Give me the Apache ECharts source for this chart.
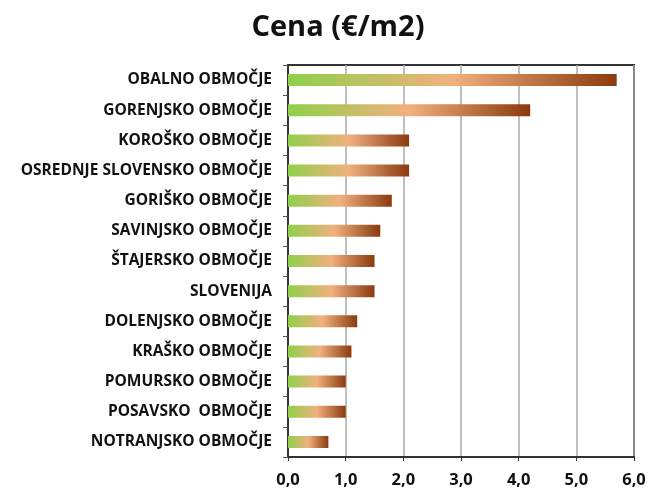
<!DOCTYPE html>
<html><head><meta charset="utf-8">
<script src="https://cdn.jsdelivr.net/npm/echarts@6/dist/echarts.min.js"></script>
<style>html,body{margin:0;padding:0;background:#fff}#c{width:649px;height:490px}</style>
</head><body><div id="c"></div>
<script>
const categories = ["OBALNO OBMOČJE","GORENJSKO OBMOČJE","KOROŠKO OBMOČJE","OSREDNJE SLOVENSKO OBMOČJE","GORIŠKO OBMOČJE","SAVINJSKO OBMOČJE","ŠTAJERSKO OBMOČJE","SLOVENIJA","DOLENJSKO OBMOČJE","KRAŠKO OBMOČJE","POMURSKO OBMOČJE","POSAVSKO  OBMOČJE","NOTRANJSKO OBMOČJE"];
const values = [5.7,4.2,2.1,2.1,1.8,1.6,1.5,1.5,1.2,1.1,1.0,1.0,0.7];
const titleText = "Cena (€/m2)";

const chart = echarts.init(document.getElementById('c'), null, {renderer:'canvas'});
const grad = new echarts.graphic.LinearGradient(0,0,1,0,[
  {offset:0,color:'#8fd04a'},
  {offset:0.5,color:'#f2b07e'},
  {offset:1,color:'#8a3a0e'}
]);
chart.setOption({
  animation:false,
  title:{text:titleText,left:333,textAlign:'center',top:8,textStyle:{fontFamily:'Open Sans',fontWeight:'bold',fontSize:29,color:'#111'}},
  grid:{left:288,right:15,top:65,bottom:33,show:true,borderColor:'#333',borderWidth:2,backgroundColor:'transparent'},
  xAxis:{type:'value',min:0,max:6,interval:1,
    axisLine:{show:true,lineStyle:{color:'#333',width:2}},
    axisTick:{show:true,length:4,lineStyle:{color:'#333'}},
    splitLine:{show:true,lineStyle:{color:'#aaa',width:1.5}},
    axisLabel:{formatter:v=>v.toFixed(1).replace('.',','),fontFamily:'Open Sans',fontWeight:'bold',fontSize:16.5,color:'#111',margin:15}},
  yAxis:{type:'category',data:categories,inverse:true,
    axisLine:{show:true,lineStyle:{color:'#333',width:2}},
    axisTick:{show:true,length:5,inside:false,lineStyle:{color:'#555'}},
    axisLabel:{fontFamily:'Open Sans',fontWeight:'bold',fontSize:15.5,color:'#111',margin:16}},
  series:[{type:'bar',data:values,barWidth:12,itemStyle:{color:grad}}]
});
</script></body></html>
